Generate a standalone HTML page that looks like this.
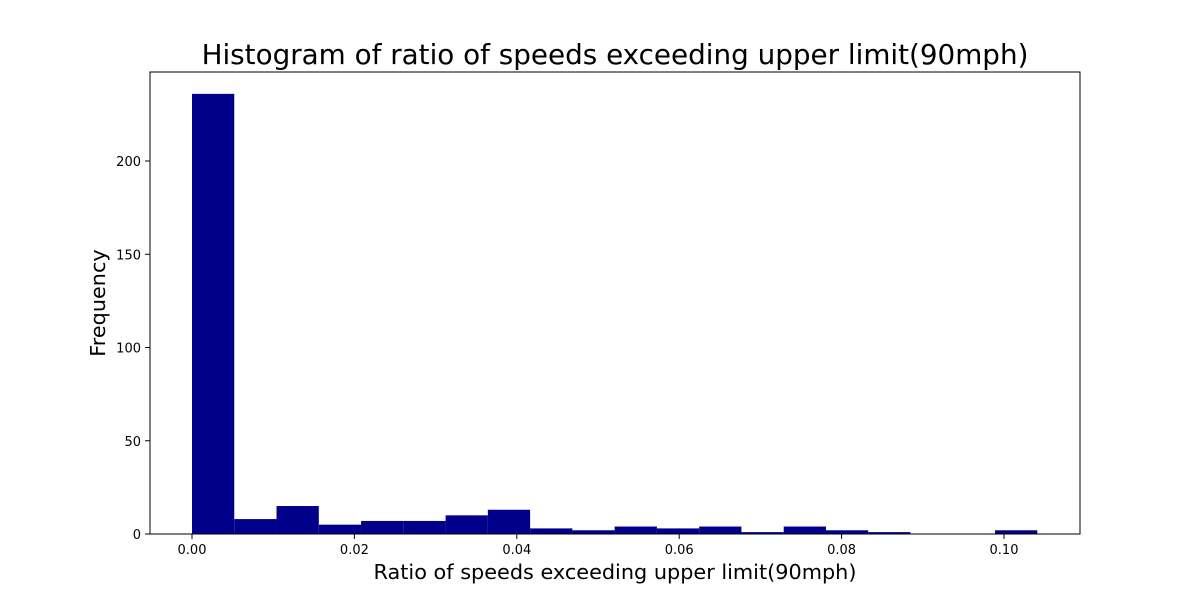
<!DOCTYPE html>
<html><head><meta charset="utf-8"><style>
body{margin:0;background:#fff;font-family:"DejaVu Sans","Liberation Sans",sans-serif;}
svg text{font-family:"DejaVu Sans","Liberation Sans",sans-serif;}
</style></head><body>
<svg id="chart" width="1200" height="600" xmlns="http://www.w3.org/2000/svg" style="display:block">
<rect width="1200" height="600" fill="#fff"/>
<text x="615" y="64" font-size="27.8" text-anchor="middle">Histogram of ratio of speeds exceeding upper limit(90mph)</text>
<g id="bars"></g>
<g id="ticks"></g>
<rect x="150" y="72" width="930" height="462" fill="none" stroke="#000" stroke-width="1"/>
<text x="615" y="579" font-size="20.8" text-anchor="middle">Ratio of speeds exceeding upper limit(90mph)</text>
<text transform="translate(105,303) rotate(-90)" font-size="20.8" text-anchor="middle">Frequency</text>
</svg>
<script>
const counts=[236,8,15,5,7,7,10,13,3,2,4,3,4,1,4,2,1,0,0,2];
const binMin=0, binMax=0.1041;
const xTicks=[0,0.02,0.04,0.06,0.08,0.10];
const xTickLabels=["0.00","0.02","0.04","0.06","0.08","0.10"];
const yTicks=[0,50,100,150,200];
const X=v=>192+v*8120;
const Y=v=>534-v*1.865;
const NS="http://www.w3.org/2000/svg";
const bars=document.getElementById('bars'),ticks=document.getElementById('ticks');
const w=(binMax-binMin)/counts.length;
counts.forEach((c,i)=>{
  const r=document.createElementNS(NS,'rect');
  const x0=X(binMin+i*w),x1=X(binMin+(i+1)*w);
  r.setAttribute('x',x0);r.setAttribute('width',x1-x0);
  r.setAttribute('y',Y(c));r.setAttribute('height',534-Y(c));
  r.setAttribute('fill','#00008b');
  
  
  bars.appendChild(r);
});
xTicks.forEach((t,i)=>{
  const l=document.createElementNS(NS,'line');
  l.setAttribute('x1',X(t));l.setAttribute('x2',X(t));l.setAttribute('y1',534);l.setAttribute('y2',539);l.setAttribute('stroke','#000');
  
  
  ticks.appendChild(l);
  const s=document.createElementNS(NS,'text');
  s.setAttribute('x',X(t));s.setAttribute('y',554);s.setAttribute('font-size','13');s.setAttribute('text-anchor','middle');
  s.textContent=xTickLabels[i];
  
  
  ticks.appendChild(s);
});
yTicks.forEach(t=>{
  const l=document.createElementNS(NS,'line');
  l.setAttribute('x1',145);l.setAttribute('x2',150);l.setAttribute('y1',Y(t));l.setAttribute('y2',Y(t));l.setAttribute('stroke','#000');
  
  
  ticks.appendChild(l);
  const s=document.createElementNS(NS,'text');
  s.setAttribute('x',141);s.setAttribute('y',Y(t)+5);s.setAttribute('font-size','13');s.setAttribute('text-anchor','end');
  s.textContent=t;
  
  
  ticks.appendChild(s);
});
</script>
</body></html>
